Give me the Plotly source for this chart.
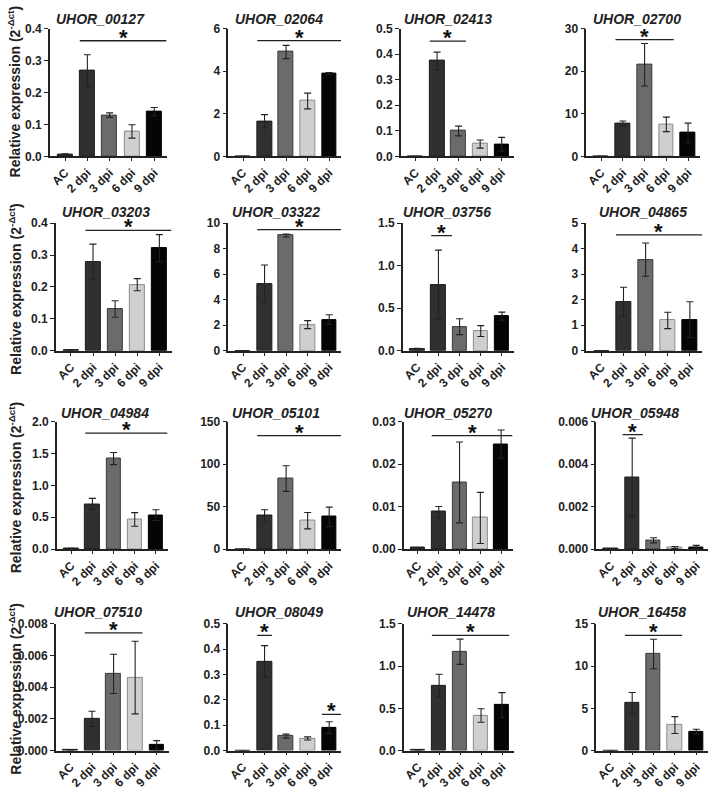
import plotly.graph_objects as go

W, H = 709, 790

categories = ["AC", "2 dpi", "3 dpi", "6 dpi", "9 dpi"]
bar_colors = ["#303030", "#303030", "#6b6b6b", "#cfcfcf", "#050505"]
bar_lines = ["#1a1a1a", "#1a1a1a", "#3a3a3a", "#8a8a8a", "#000000"]

genes = ["UHOR_00127", "UHOR_02064", "UHOR_02413", "UHOR_02700",
         "UHOR_03203", "UHOR_03322", "UHOR_03756", "UHOR_04865",
         "UHOR_04984", "UHOR_05101", "UHOR_05270", "UHOR_05948",
         "UHOR_07510", "UHOR_08049", "UHOR_14478", "UHOR_16458"]

# means and SEM for AC, 2, 3, 6, 9 dpi
m_00127 = [0.005, 0.268, 0.129, 0.078, 0.140]
e_00127 = [0.003, 0.050, 0.007, 0.021, 0.013]
m_02064 = [0.0, 1.65, 4.90, 2.60, 3.90]
e_02064 = [0.0, 0.31, 0.31, 0.37, 0.04]
m_02413 = [0.0, 0.373, 0.099, 0.048, 0.047]
e_02413 = [0.0, 0.035, 0.019, 0.016, 0.027]
m_02700 = [0.0, 7.7, 21.5, 7.5, 5.5]
e_02700 = [0.0, 0.6, 5.0, 1.7, 2.3]
m_03203 = [0.001, 0.279, 0.131, 0.207, 0.321]
e_03203 = [0.0, 0.055, 0.026, 0.019, 0.043]
m_03322 = [0.0, 5.26, 9.03, 2.05, 2.44]
e_03322 = [0.0, 1.46, 0.12, 0.31, 0.38]
m_03756 = [0.02, 0.777, 0.283, 0.232, 0.406]
e_03756 = [0.01, 0.405, 0.093, 0.064, 0.048]
m_04865 = [0.0, 1.92, 3.57, 1.19, 1.22]
e_04865 = [0.0, 0.57, 0.65, 0.32, 0.70]
m_04984 = [0.01, 0.707, 1.42, 0.466, 0.534]
e_04984 = [0.005, 0.09, 0.095, 0.107, 0.084]
m_05101 = [0.0, 39.2, 83.0, 33.5, 38.0]
e_05101 = [0.0, 7.2, 15.0, 9.6, 11.5]
m_05270 = [0.0003, 0.00874, 0.0157, 0.00735, 0.0247]
e_05270 = [0.0001, 0.0013, 0.0095, 0.006, 0.0033]
m_05948 = [0.00001, 0.00337, 0.00042, 0.00008, 0.0001]
e_05948 = [0.000005, 0.00185, 0.00012, 0.00005, 0.00008]
m_07510 = [0.00002, 0.0020, 0.00484, 0.00461, 0.00033]
e_07510 = [0.00001, 0.00048, 0.00124, 0.00229, 0.0003]
m_08049 = [0.0, 0.352, 0.057, 0.048, 0.091]
e_08049 = [0.0, 0.062, 0.008, 0.006, 0.023]
m_14478 = [0.005, 0.767, 1.17, 0.415, 0.537]
e_14478 = [0.002, 0.136, 0.15, 0.08, 0.149]
m_16458 = [0.0, 5.62, 11.43, 3.02, 2.25]
e_16458 = [0.0, 1.26, 1.75, 1.0, 0.27]

means = [m_00127, m_02064, m_02413, m_02700, m_03203, m_03322, m_03756, m_04865,
         m_04984, m_05101, m_05270, m_05948, m_07510, m_08049, m_14478, m_16458]
errs = [e_00127, e_02064, e_02413, e_02700, e_03203, e_03322, e_03756, e_04865,
        e_04984, e_05101, e_05270, e_05948, e_07510, e_08049, e_14478, e_16458]

# y axis maximum, tick step, tick format
y_max = [0.4, 6, 0.5, 30, 0.4, 10, 1.5, 5, 2.0, 150, 0.03, 0.006, 0.008, 0.5, 1.5, 15]
y_step = [0.1, 2, 0.1, 10, 0.1, 2, 0.5, 1, 0.5, 50, 0.01, 0.002, 0.002, 0.1, 0.5, 5]
y_fmt = [".1f", "d", ".1f", "d", ".1f", "d", ".1f", "d", ".1f", "d", ".2f", ".3f", ".3f", ".1f", ".1f", "d"]

# significance brackets: (start, end on the category axis, level)
sig = [
    [(0.66, 4.55, 0.362)], [(0.66, 4.55, 5.44)], [(0.66, 2.34, 0.451)], [(0.66, 3.34, 27.4)],
    [(0.66, 4.55, 0.377)], [(0.66, 4.55, 9.49)], [(0.66, 1.64, 1.353)], [(0.66, 4.55, 4.54)],
    [(0.66, 4.55, 1.817)], [(0.66, 4.55, 133.5)], [(0.66, 4.55, 0.0267)], [(0.55, 1.5, 0.00538)],
    [(0.66, 3.34, 0.00743)], [(0.66, 1.34, 0.4545), (3.66, 4.55, 0.143)], [(0.66, 4.34, 1.364)],
    [(0.66, 3.34, 13.64)],
]

# layout in pixels: (axis left, axis right) per panel, (top, bottom) per row
cols_px = [
    [(48, 165), (227, 340), (400, 513), (586, 700)],
    [(54, 170), (227, 340), (402, 513), (586, 702)],
    [(55, 166), (227, 340), (403, 512), (596, 708)],
    [(54, 167), (227, 340), (403, 513), (596, 708)],
]
rows_px = [(22, 152), (220, 350), (422, 552), (628, 757)]
title_x = [[99, 278, 447, 637], [104, 275, 446, 643], [103, 275, 447, 635], [96, 278, 450, 642]]
title_y = [12, 209, 413, 616]
ytitle_y = [86, 287, 489, 694]

FONT = "Liberation Sans, Arial, sans-serif"
BW = 0.68
XR = [-0.68, 4.55]

fig = go.Figure()
annotations = []
shapes = []

for i, g in enumerate(genes):
    r, c = divmod(i, 4)
    x0, x1 = cols_px[r][c]
    yt, yb = rows_px[r]
    k = "" if i == 0 else str(i + 1)
    xa, ya = "x" + k, "y" + k
    fig.add_trace(go.Bar(
        x=list(range(5)), y=means[i], width=BW,
        marker=dict(color=bar_colors, line=dict(color=bar_lines, width=1)),
        error_y=dict(type="data", array=errs[i], color="#222222", thickness=1.1, width=3.5),
        xaxis=xa, yaxis=ya, showlegend=False, cliponaxis=False,
    ))
    fig.update_layout({
        "xaxis" + k: dict(domain=[x0 / W, x1 / W], anchor=ya, range=XR,
                          tickvals=list(range(5)), ticktext=categories, tickangle=-45,
                          showline=True, linecolor="#222222", linewidth=1.5,
                          ticks="outside", ticklen=3, tickwidth=1.2, tickcolor="#222222",
                          showgrid=False, zeroline=False, fixedrange=True,
                          tickfont=dict(family=FONT, size=12, color="#222222", weight="bold")),
        "yaxis" + k: dict(domain=[1 - yb / H, 1 - yt / H], anchor=xa, range=[0, y_max[i]],
                          dtick=y_step[i], tick0=0, tickformat=y_fmt[i],
                          showline=True, linecolor="#222222", linewidth=1.5,
                          ticks="outside", ticklen=4, tickwidth=1.2, tickcolor="#222222",
                          showgrid=False, zeroline=False, fixedrange=True,
                          tickfont=dict(family=FONT, size=12, color="#222222", weight="bold")),
    })
    annotations.append(dict(
        x=title_x[r][c] / W, y=1 - title_y[r] / H, xref="paper", yref="paper",
        text=g, showarrow=False, xanchor="center", yanchor="middle",
        font=dict(family=FONT, size=14, color="#222222", style="italic", weight="bold"),
    ))
    for (xs, xe, lvl) in sig[i]:
        shapes.append(dict(type="line", xref=xa, yref=ya, x0=xs, x1=xe, y0=lvl, y1=lvl,
                           line=dict(color="#222222", width=1.3)))
        annotations.append(dict(
            x=(xs + xe) / 2, y=lvl, xref=xa, yref=ya, text="*", showarrow=False,
            xanchor="center", yanchor="bottom", yshift=-11,
            font=dict(family=FONT, size=22, color="#111111", weight="bold"),
        ))

for r in range(4):
    annotations.append(dict(
        x=13 / W, y=1 - ytitle_y[r] / H, xref="paper", yref="paper",
        text="Relative expression (2<sup>-Δct</sup>)", showarrow=False, textangle=-90,
        xanchor="center", yanchor="middle",
        font=dict(family=FONT, size=14, color="#222222", weight="bold"),
    ))

fig.update_layout(
    width=W, height=H, margin=dict(l=0, r=0, t=0, b=0),
    paper_bgcolor="white", plot_bgcolor="white",
    annotations=annotations, shapes=shapes, bargap=0,
)

fig.write_html(
    "out.html",
    config={"displayModeBar": False},
    post_script="document.body.style.margin='0';document.body.style.overflow='hidden';",
)
